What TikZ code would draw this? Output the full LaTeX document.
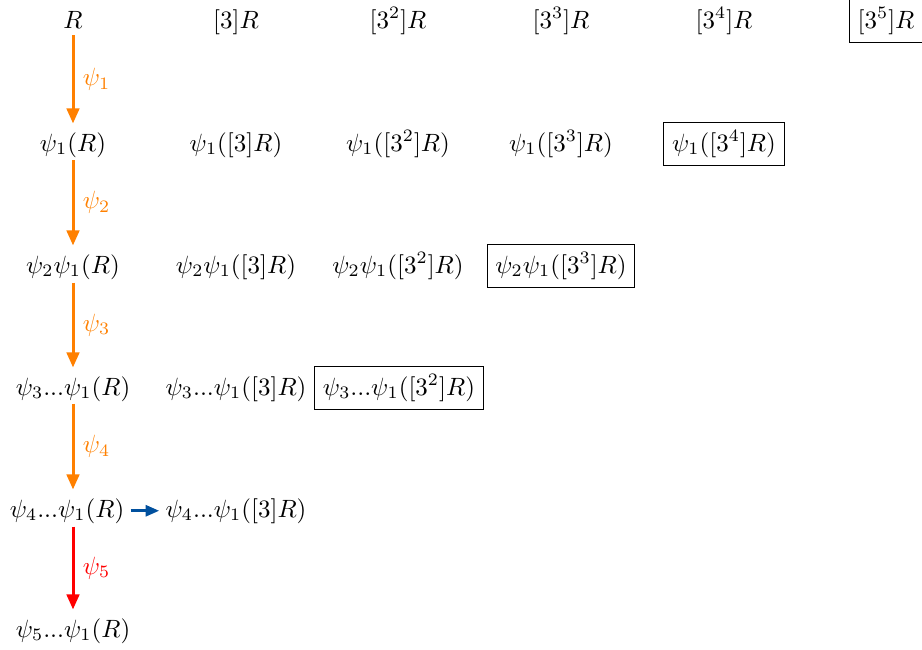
\documentclass[tikz,border=0pt]{standalone}
\usetikzlibrary{arrows.meta}
\definecolor{mapblue}{RGB}{0,80,158}
\begin{document}
\begin{tikzpicture}[x=0.4pt,y=-0.4pt,
  term/.style={anchor=base, inner sep=3.33pt},
  boxed/.style={term, draw, line width=0.4pt},
  isog/.style={line width=1.2pt, -{Triangle[length=6pt,width=5pt]}},
  mult/.style={line width=1.2pt, mapblue, -{Triangle[length=5.5pt,width=4.4pt]},
    shorten <=-1pt, shorten >=-1pt},
  lbl/.style={midway, right}]
\useasboundingbox (0,0) rectangle (922,649);
\clip (0,0) rectangle (922,649);

% row 0: multiples of R
\node[term]  (r0c0) at (73,28)  {$R$};
\node[term]  (r0c1) at (236,28) {$[3]R$};
\node[term]  (r0c2) at (398,28) {$[3^2]R$};
\node[term]  (r0c3) at (561,28) {$[3^3]R$};
\node[term]  (r0c4) at (724,28) {$[3^4]R$};
\node[boxed] (r0c5) at (886,28) {$[3^5]R$};

% row 1
\node[term]  (r1c0) at (73,151)  {$\psi_1(R)$};
\node[term]  (r1c1) at (236,151) {$\psi_1([3]R)$};
\node[term]  (r1c2) at (398,151) {$\psi_1([3^2]R)$};
\node[term]  (r1c3) at (561,151) {$\psi_1([3^3]R)$};
\node[boxed] (r1c4) at (724,151) {$\psi_1([3^4]R)$};

% row 2
\node[term]  (r2c0) at (73,273)  {$\psi_2\psi_1(R)$};
\node[term]  (r2c1) at (236,273) {$\psi_2\psi_1([3]R)$};
\node[term]  (r2c2) at (398,273) {$\psi_2\psi_1([3^2]R)$};
\node[boxed] (r2c3) at (561,273) {$\psi_2\psi_1([3^3]R)$};

% row 3
\node[term]  (r3c0) at (73,395)  {$\psi_3...\psi_1(R)$};
\node[term]  (r3c1) at (236,395) {$\psi_3...\psi_1([3]R)$};
\node[boxed] (r3c2) at (399,395) {$\psi_3...\psi_1([3^2]R)$};

% row 4
\node[term]  (r4c0) at (67,517)  {$\psi_4...\psi_1(R)$};
\node[term]  (r4c1) at (236,517) {$\psi_4...\psi_1([3]R)$};

% row 5
\node[term]  (r5c0) at (73,637)  {$\psi_5...\psi_1(R)$};

% start points of the vertical steps, just under each baseline
\coordinate (s0) at ([yshift=-2.8pt]r0c0.base);
\coordinate (s1) at ([yshift=-3.6pt]r1c0.base);
\coordinate (s2) at ([yshift=-3.8pt]r2c0.base);
\coordinate (s3) at ([yshift=-3.4pt]r3c0.base);
\coordinate (s4) at ([yshift=-3.8pt]r5c0.base |- r4c0.base);

% isogeny steps down the first column
\draw[isog, orange] (s0) -- (s0 |- r1c0.north) node[lbl] {$\psi_1$};
\draw[isog, orange] (s1) -- (s1 |- r2c0.north) node[lbl] {$\psi_2$};
\draw[isog, orange] (s2) -- (s2 |- r3c0.north) node[lbl] {$\psi_3$};
\draw[isog, orange] (s3) -- (s3 |- r4c0.north) node[lbl] {$\psi_4$};
\draw[isog, red] (s4) -- (r5c0.north) node[lbl] {$\psi_5$};

% multiplication step
\draw[mult] (r4c0.east) -- (r4c1.west);
\end{tikzpicture}
\end{document}
